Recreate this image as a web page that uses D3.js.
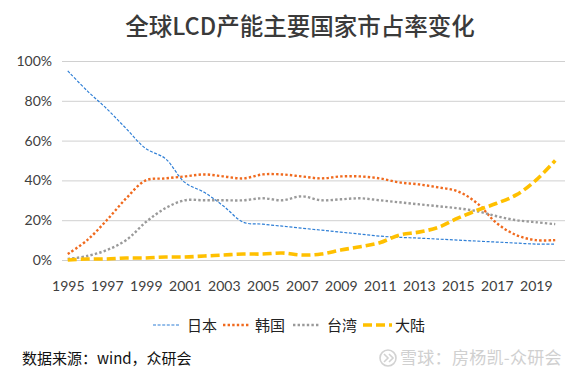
<!DOCTYPE html>
<html><head><meta charset="utf-8">
<script src="https://cdn.jsdelivr.net/npm/d3@7/dist/d3.min.js"></script>
<style>html,body{margin:0;padding:0;background:#fff;}svg{display:block;}</style>
</head><body><svg id="c" width="573" height="372"></svg>
<script>
const years = d3.range(1995, 2021);
const tickYears = [1995,1997,1999,2001,2003,2005,2007,2009,2011,2013,2015,2017,2019];
const yTicks = [0,0.2,0.4,0.6,0.8,1.0];
const japan    = [95,85,76,66,56,51,39,34,27,19,18,17,16,15,14,13,12,11.4,11,10.5,10,9.5,9,8.5,8,8];
const korea    = [3,10,20,31,40,41,42,43,42,41,43,43,42,41,42,42,41,39,38,36.5,34.5,28.5,18.5,12.5,10,10];
const taiwan   = [0.5,2,5,10,19,26,30,30,30,30,31,30,32,30,30.5,31,30,29,28,27,26,24.5,22,20,19,18];
const mainland = [0,0.5,0.5,1,1,1.5,1.5,2,2.5,3,3,3.5,2.5,3,5,6.7,8.7,12.5,14,16.4,21,25,28.5,32.7,40,50];
const seriesNames = ["日本","韩国","台湾","大陆"];
const title = "全球LCD产能主要国家市占率变化";
const source = "数据来源：wind，众研会";
const watermark = "雪球：房杨凯-众研会";

const styles = [
  {color:"#2F7FD6", width:1.2, dash:"3,1.6", cap:"butt"},
  {color:"#F06A1E", width:2.4, dash:"2.4,2.2", cap:"butt"},
  {color:"#9A9A9A", width:2.4, dash:"2.4,2.2", cap:"butt"},
  {color:"#FFC000", width:3.6, dash:"9,4", cap:"butt"}
];
const seriesData = [japan, korea, taiwan, mainland];

const svg = d3.select("#c");
const x0 = 58, x1 = 565, yTop = 61, yBot = 260;
const x = d3.scalePoint().domain(years).range([x0+9.75, x1-9.75]);
const y = d3.scaleLinear().domain([0,1]).range([yBot, yTop]);

// title
svg.append("text").attr("x",300).attr("y",35).attr("text-anchor","middle")
  .attr("font-family","'Noto Sans CJK SC'").attr("font-size",23.5).attr("font-weight",500)
  .attr("fill","#3A3A3A").text(title);

// grid
const yAxis = d3.axisLeft(y).tickValues(yTicks).tickFormat(d=>Math.round(d*100)+"%").tickSize(-(x1-x0-4)).tickPadding(6);
const gy = svg.append("g").attr("transform",`translate(${x0+4},0)`).call(yAxis);
gy.select(".domain").remove();
gy.selectAll(".tick line").attr("stroke","#D0D0D0").attr("stroke-width",1);
gy.selectAll(".tick text").attr("font-family","Lato").attr("font-size",14).attr("fill","#404040").attr("x",-10);

const xAxis = d3.axisBottom(x).tickValues(tickYears).tickSize(0).tickPadding(21);
const gx = svg.append("g").attr("transform",`translate(0,${yBot})`).call(xAxis);
gx.select(".domain").remove();
gx.selectAll(".tick text").attr("font-family","Lato").attr("font-size",14).attr("fill","#404040");

// lines
const line = d3.line().x((d,i)=>x(years[i])).y(d=>y(d/100)).curve(d3.curveCatmullRom.alpha(0.5));
seriesData.forEach((s,k)=>{
  svg.append("path").datum(s).attr("d",line).attr("fill","none")
    .attr("stroke",styles[k].color).attr("stroke-width",styles[k].width)
    .attr("stroke-dasharray",styles[k].dash).attr("stroke-linecap",styles[k].cap);
});

// legend
const legX = [153,223,293,363], legLen=[26,26,26,29], legTextX=[187,255,327,395];
const lg = svg.append("g");
seriesNames.forEach((n,k)=>{
  lg.append("line").attr("x1",legX[k]).attr("x2",legX[k]+legLen[k]).attr("y1",325).attr("y2",325)
    .attr("stroke",styles[k].color).attr("stroke-width",styles[k].width)
    .attr("stroke-dasharray",styles[k].dash);
  lg.append("text").attr("x",legTextX[k]).attr("y",330.5).attr("font-family","'Noto Sans CJK SC'")
    .attr("font-size",15).attr("fill","#222").text(n);
});

// source
svg.append("text").attr("x",22).attr("y",364).attr("font-family","'Noto Sans CJK SC'")
  .attr("font-size",15).attr("fill","#111").text(source);

// watermark
const wm = svg.append("g");
wm.append("circle").attr("cx",388).attr("cy",358).attr("r",8).attr("fill","none").attr("stroke","#D2D2D2").attr("stroke-width",1.6);
wm.append("path").attr("d","M384,354 L388,358 L384,362 M389,354 L393,358 L389,362").attr("fill","none").attr("stroke","#D2D2D2").attr("stroke-width",1.6);
wm.append("text").attr("x",400).attr("y",364).attr("font-family","'Noto Sans CJK SC'")
  .attr("font-size",17).attr("letter-spacing",0.3).attr("fill","#D0D0D0").text(watermark);
</script></body></html>
